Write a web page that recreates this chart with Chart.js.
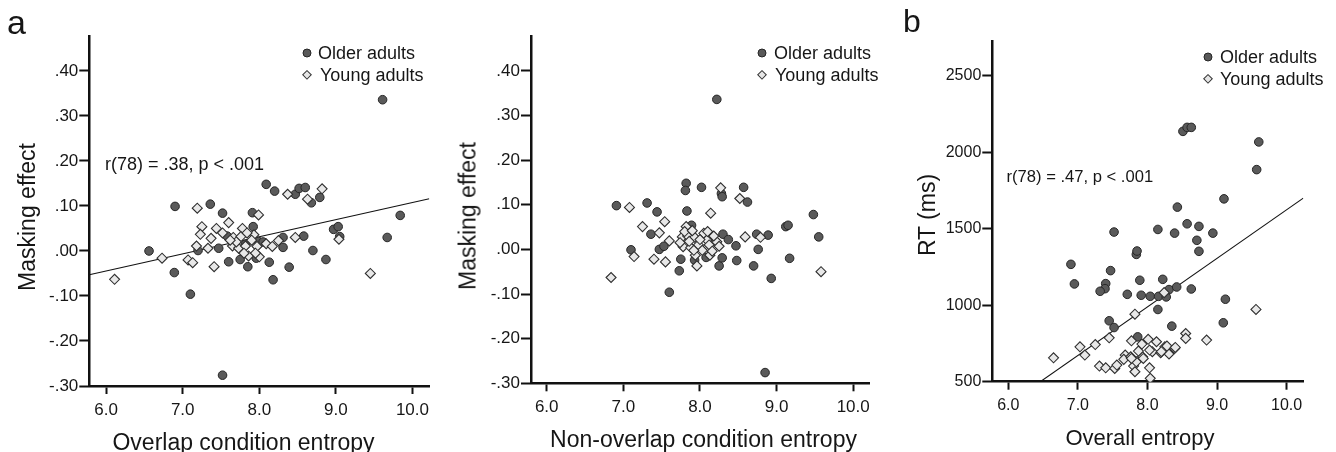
<!DOCTYPE html>
<html>
<head>
<meta charset="utf-8">
<script src="https://cdn.jsdelivr.net/npm/chart.js@4/dist/chart.umd.min.js"></script>
<style>
  html, body { margin:0; padding:0; background:#fff; }
  body { width:1336px; height:452px; position:relative; overflow:hidden;
         font-family:"Liberation Sans", Arial, Helvetica, sans-serif; color:#161616; }
  canvas { position:absolute; top:0; }
  .t { position:absolute; line-height:1; white-space:nowrap; }
  .dot { position:absolute; width:9px; height:9px; border-radius:50%; background:#595959;
         border:1px solid #262626; box-sizing:border-box; transform:translate(-50%,-50%); }
  .dia { position:absolute; width:7.2px; height:7.2px; background:#e6e6e6;
         border:1px solid #333; box-sizing:border-box; transform:translate(-50%,-50%) rotate(45deg); }
</style>
</head>
<body>
<canvas id="c1" width="450" height="452" style="left:0px"></canvas>
<canvas id="c2" width="440" height="452" style="left:450px"></canvas>
<canvas id="c3" width="446" height="452" style="left:890px"></canvas>
<script>
// ---------- DATA ----------
const xTickValues = [6, 7, 8, 9, 10];
const maskTickValues = [-0.3, -0.2, -0.1, 0, 0.1, 0.2, 0.3, 0.4];
const rtTickValues = [500, 1000, 1500, 2000, 2500];
const seriesNames = ['Older adults', 'Young adults'];

// Panel a-left: Overlap condition entropy vs masking effect
const olderOverlapX = [6.56,6.89,6.90,7.10,7.20,7.36,7.47,7.52,7.52,7.58,7.60,7.75,7.85,7.91,7.92,7.96,7.99,8.09,8.13,8.18,8.20,8.31,8.31,8.39,8.47,8.52,8.60,8.58,8.68,8.70,8.79,8.87,8.97,9.03,9.05,9.61,9.67,9.84,7.82,8.05];
const olderOverlapY = [0.000,-0.048,0.099,-0.096,0.001,0.104,0.006,0.084,-0.276,0.033,-0.024,-0.019,-0.035,0.085,0.054,-0.016,0.021,0.148,-0.025,-0.064,0.133,0.030,0.008,-0.036,0.126,0.139,0.141,0.033,0.107,0.001,0.119,-0.019,0.048,0.054,0.032,0.336,0.030,0.079,0.015,0.020];
const youngOverlapX = [6.11,6.73,7.07,7.13,7.19,7.25,7.23,7.18,7.33,7.37,7.41,7.44,7.60,7.65,7.66,7.73,7.78,7.76,7.82,7.86,7.93,7.97,8.00,7.99,8.09,8.17,8.25,8.47,9.04,9.45,8.37,8.63,8.82,7.70,7.90,7.84,7.62,7.95,7.52,7.80];
const youngOverlapY = [-0.063,-0.016,-0.020,-0.026,0.095,0.054,0.037,0.011,0.006,0.028,-0.035,0.050,0.063,0.011,0.030,0.006,0.050,0.032,0.011,-0.011,0.036,0.010,-0.013,0.080,0.016,0.010,0.023,0.030,0.026,-0.050,0.126,0.115,0.138,0.020,0.024,0.040,0.024,-0.005,0.040,-0.005];
const fitOverlapX = [5.78, 10.22];
const fitOverlapY = [-0.053, 0.116];

// Panel a-right: Non-overlap condition entropy vs masking effect
const olderNonOverlapX = [6.91,7.31,7.44,7.36,7.10,7.47,7.53,7.60,7.75,7.73,7.82,7.81,7.83,7.89,7.93,8.02,8.08,8.17,8.22,8.25,8.28,8.29,8.29,8.30,8.37,8.47,8.48,8.57,8.62,8.70,8.74,8.76,8.89,8.93,8.85,9.12,9.15,9.17,9.48,9.55];
const olderNonOverlapY = [0.098,0.104,0.084,0.034,-0.001,0.000,0.007,-0.096,-0.022,-0.048,0.148,0.132,0.086,0.054,-0.024,0.139,-0.018,0.027,0.336,-0.037,0.125,0.118,-0.019,0.034,0.022,0.008,-0.025,0.139,0.106,-0.037,0.034,0.000,0.032,-0.065,-0.276,0.051,0.054,-0.020,0.078,0.028];
const youngNonOverlapX = [6.84,7.08,7.14,7.25,7.40,7.47,7.55,7.54,7.60,7.77,7.78,7.82,7.84,7.88,7.93,7.94,7.96,7.98,8.05,8.09,8.12,8.13,8.14,8.22,8.25,8.27,8.52,8.59,8.79,9.58,7.80,7.86,7.90,8.00,8.03,8.18,8.10,7.92,8.16,7.74];
const youngNonOverlapY = [-0.063,0.094,-0.016,0.051,-0.022,0.037,-0.028,0.062,0.019,0.028,0.006,0.051,0.030,0.004,0.027,-0.013,-0.037,0.010,0.036,0.021,0.010,-0.013,0.081,0.017,0.007,0.138,0.114,0.028,0.027,-0.050,0.040,0.018,0.042,0.022,-0.002,0.030,0.040,-0.002,-0.004,0.015];

// Panel b: Overall entropy vs RT (ms)
const olderOverallX = [8.51,8.57,8.63,9.60,9.57,9.10,8.43,8.57,8.74,8.94,8.71,8.74,8.39,8.15,7.52,7.84,7.85,6.90,6.95,7.47,7.40,7.39,7.32,7.89,7.71,7.91,8.04,8.22,8.16,8.27,8.31,8.42,8.63,8.15,7.45,7.52,8.35,7.86,9.12,9.09];
const olderRT = [2136,2162,2162,2067,1886,1695,1641,1532,1515,1471,1424,1352,1471,1495,1478,1332,1354,1267,1139,1226,1141,1108,1091,1163,1071,1065,1058,1169,1058,1054,1102,1119,1106,972,898,854,863,793,1039,885];
const youngOverallX = [6.65,7.03,7.10,7.25,7.45,7.31,7.40,7.53,7.56,7.68,7.66,7.77,7.82,7.76,7.80,7.82,7.84,7.92,7.93,8.01,8.03,8.04,8.07,8.13,8.19,8.25,8.24,8.31,8.39,8.55,8.55,8.85,9.56,8.28,8.40,7.94,7.77,8.03,8.20,7.87];
const youngRT = [656,728,674,743,787,602,591,587,609,674,646,767,941,663,602,565,630,746,663,777,591,522,696,761,689,728,1082,681,717,815,783,772,972,733,724,652,652,707,696,700];
const fitOverallX = [6.46, 10.24];
const fitOverallRT = [500, 1700];

// ---------- helpers ----------
const FONT = '"Liberation Sans", Arial, Helvetica, sans-serif';
const zip = (xs, ys) => xs.map((x, i) => ({x: x, y: ys[i]}));
const maskFmt = v => { const s = Number(v).toFixed(2); return s.replace(/^(-?)0\./, '$1.'); };

function makePanel(id, p) {
  const ctx = document.getElementById(id).getContext('2d');
  new Chart(ctx, {
    type: 'scatter',
    data: {
      datasets: [
        { label: seriesNames[0], data: zip(p.ox, p.oy), pointStyle: 'circle', pointRadius: 4.3,
          backgroundColor: '#5a5a5a', borderColor: '#262626', borderWidth: 1, order: 1 },
        { label: seriesNames[1], data: zip(p.yx, p.yy), pointStyle: 'rectRot', pointRadius: 5,
          backgroundColor: '#e8e8e8', borderColor: '#303030', borderWidth: 1.1, order: 0 },
        ...(p.fx ? [{ type: 'line', label: 'fit', data: zip(p.fx, p.fy), borderColor: '#111',
          borderWidth: 1.1, pointRadius: 0, fill: false, order: 2 }] : [])
      ]
    },
    options: {
      responsive: false, animation: false, events: [],
      layout: { padding: { top: p.top, right: p.right, left: 0, bottom: 0 } },
      plugins: { legend: { display: false }, tooltip: { enabled: false } },
      scales: {
        x: {
          type: 'linear', min: p.xmin, max: p.xmax,
          afterBuildTicks: s => { s.ticks = xTickValues.map(v => ({ value: v })); },
          afterFit: s => { s.height = p.xh; },
          ticks: { autoSkip: false, maxRotation: 0, padding: 6, color: '#161616',
                   font: { family: FONT, size: p.tickSize }, callback: v => Number(v).toFixed(1) },
          grid: { drawOnChartArea: false, drawTicks: true, tickLength: 8, tickWidth: 2, color: '#111' },
          border: { display: true, color: '#111', width: 2.5 }
        },
        y: {
          type: 'linear', min: p.ymin, max: p.ymax,
          afterBuildTicks: s => { s.ticks = p.yTicks.map(v => ({ value: v })); },
          afterFit: s => { s.width = p.yw; },
          ticks: { autoSkip: false, padding: 1, color: '#161616',
                   font: { family: FONT, size: p.tickSize }, callback: p.yFmt },
          grid: { drawOnChartArea: false, drawTicks: true, tickLength: 10, tickWidth: 2, color: '#111' },
          border: { display: true, color: '#111', width: 2.5 }
        }
      }
    }
  });
}

makePanel('c1', { ox: olderOverlapX, oy: olderOverlapY, yx: youngOverlapX, yy: youngOverlapY,
  fx: fitOverlapX, fy: fitOverlapY, xmin: 5.78, xmax: 10.22, ymin: -0.3, ymax: 0.476,
  yTicks: maskTickValues, yFmt: maskFmt, top: 36.7, right: 20.7, yw: 89.3, xh: 66, tickSize: 17 });
makePanel('c2', { ox: olderNonOverlapX, oy: olderNonOverlapY, yx: youngNonOverlapX, yy: youngNonOverlapY,
  xmin: 5.795, xmax: 10.21, ymin: -0.3, ymax: 0.478,
  yTicks: maskTickValues, yFmt: maskFmt, top: 36, right: 20.7, yw: 81, xh: 68.7, tickSize: 17 });
makePanel('c3', { ox: olderOverallX, oy: olderRT, yx: youngOverallX, yy: youngRT,
  fx: fitOverallX, fy: fitOverallRT, xmin: 5.77, xmax: 10.24, ymin: 500, ymax: 2722,
  yTicks: rtTickValues, yFmt: v => String(Math.round(v)), top: 41.7, right: 32.7, yw: 102.3, xh: 70.3, tickSize: 16 });

// ---------- text overlays ----------
function txt(s, x, y, size, mode) {
  const d = document.createElement('div');
  d.className = 't';
  d.textContent = s;
  d.style.left = x + 'px';
  d.style.top = y + 'px';
  d.style.fontSize = size + 'px';
  if (mode === 'c') d.style.transform = 'translate(-50%,-50%)';
  else if (mode === 'r') d.style.transform = 'translate(-50%,-50%) rotate(-90deg)';
  else if (mode === 'm') d.style.transform = 'translate(0,-50%)';
  document.body.appendChild(d);
}
function mark(cls, x, y) {
  const d = document.createElement('div');
  d.className = cls;
  d.style.left = x + 'px';
  d.style.top = y + 'px';
  document.body.appendChild(d);
}

// panel letters
txt('a', 7, 5, 34);
txt('b', 903, 4.5, 32);

// axis titles
txt('Masking effect', 27, 216.5, 23, 'r');
txt('Overlap condition entropy', 243.5, 441.5, 23, 'c');
txt('Masking effect', 468.3, 216, 23, 'r');
txt('Non-overlap condition entropy', 703.5, 439, 23, 'c');
txt('RT (ms)', 926.7, 215, 23, 'r');
txt('Overall entropy', 1140, 438, 22, 'c');

// annotations
txt('r(78) = .38, p < .001', 105, 163.5, 18, 'm');
txt('r(78) = .47, p < .001', 1006.5, 177, 16.6, 'm');

// legends
mark('dot', 306.7, 52.7); txt(seriesNames[0], 318, 53, 18, 'm');
mark('dia', 306.7, 75);   txt(seriesNames[1], 320, 74.5, 18, 'm');
mark('dot', 761.7, 52.7); txt(seriesNames[0], 774, 53, 18, 'm');
mark('dia', 761.7, 75);   txt(seriesNames[1], 775, 74.5, 18, 'm');
mark('dot', 1208.3, 56.7); txt(seriesNames[0], 1220, 57, 18, 'm');
mark('dia', 1208.3, 79.3); txt(seriesNames[1], 1220, 79, 18, 'm');
</script>
</body>
</html>
